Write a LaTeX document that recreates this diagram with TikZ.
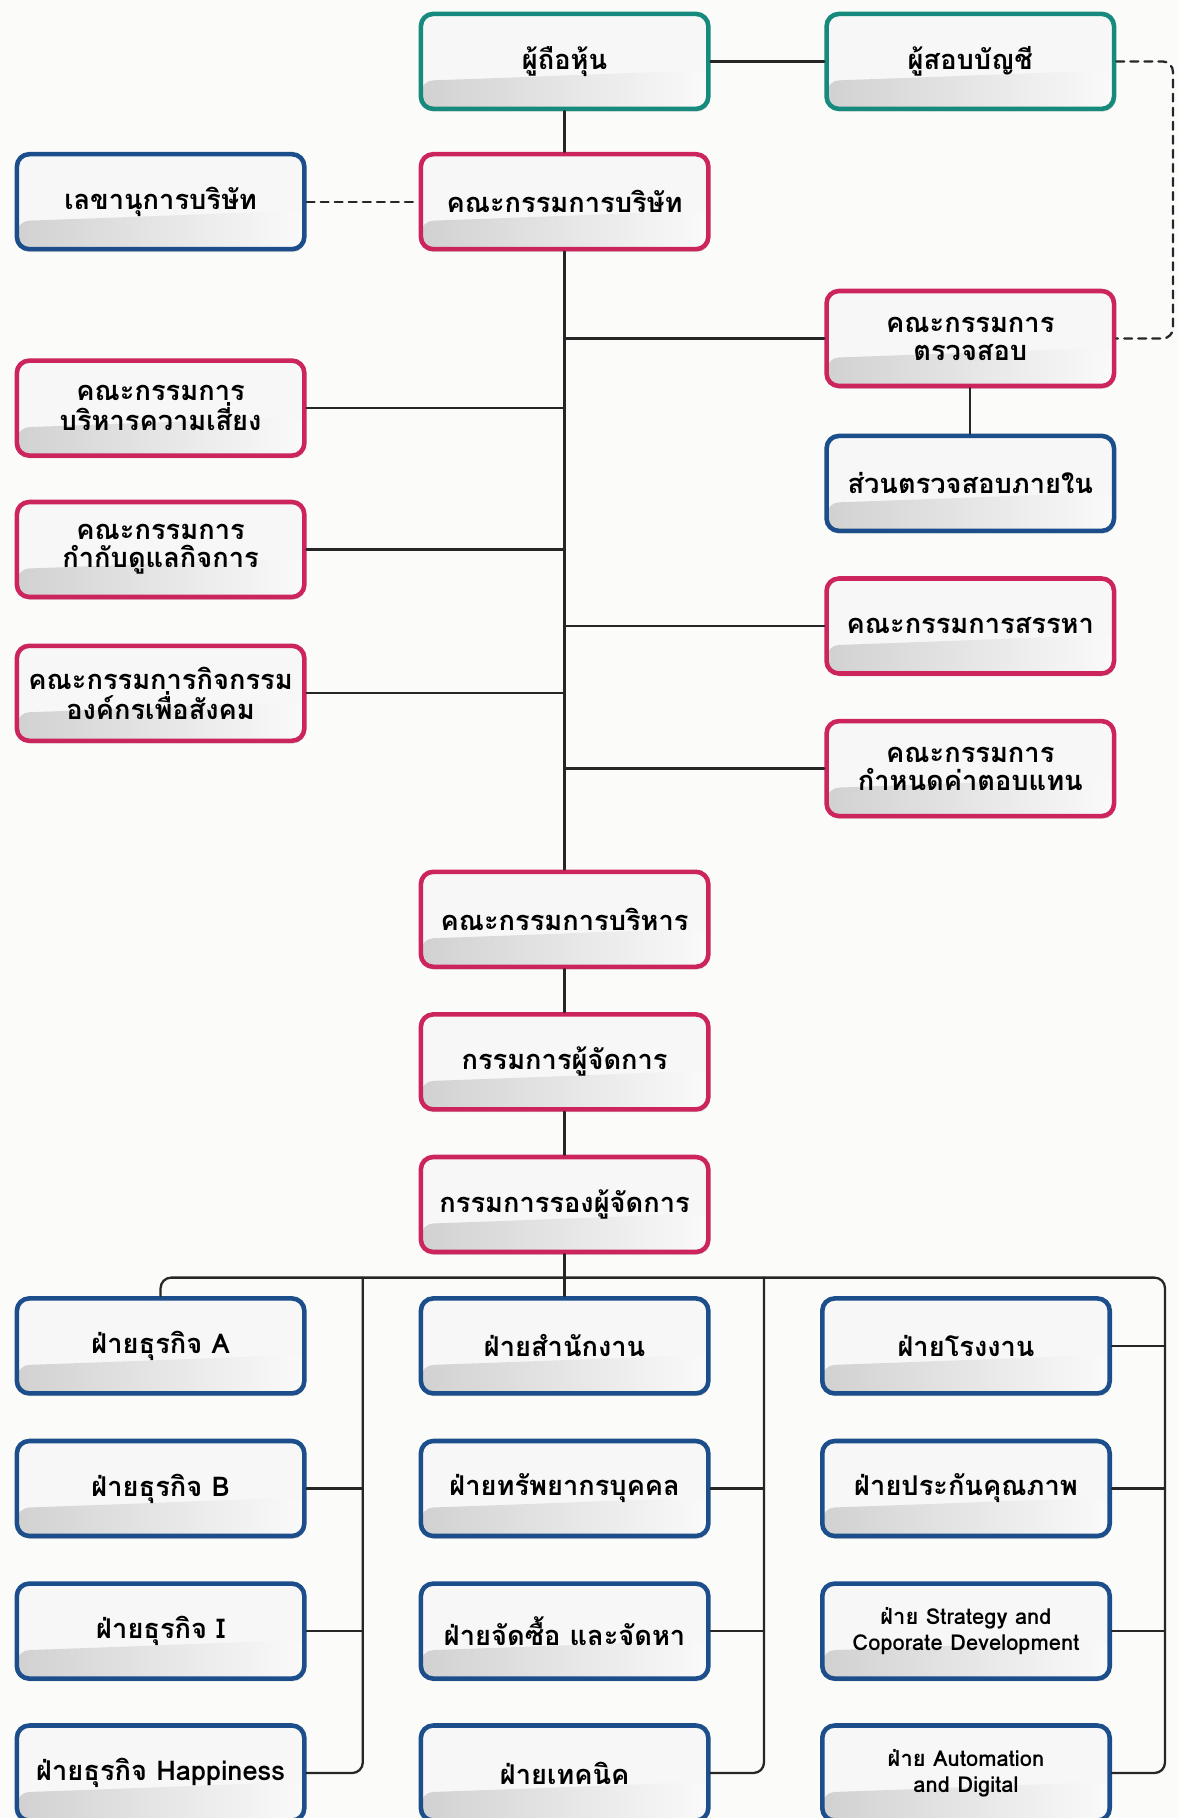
\documentclass[tikz,border=0pt]{standalone}
\usepackage{fontspec}
\newfontfamily\thaifont[Script=Thai]{Loma}
\usetikzlibrary{positioning, shadows}
\definecolor{orgteal}{RGB}{22, 138, 124}
\definecolor{orgred}{RGB}{204, 36, 92}
\definecolor{orgblue}{RGB}{28, 78, 140}
\definecolor{orgbg}{RGB}{251, 251, 249}

\begin{document}
\begin{tikzpicture}[x=0.02cm, y=-0.02cm, line cap=round, line join=round,
		orgbox/.style={draw, line width=2.6pt, rounded corners=7pt, fill=black!3,
			minimum width=5.75cm, minimum height=1.9cm, align=center,
			font=\thaifont\bfseries\fontsize{15.5}{16}\selectfont,
			drop shadow={shadow xshift=0.6pt, shadow yshift=-1.6pt, opacity=0.25},
			path picture={\shade[left color=black!18, right color=black!2]
				(path picture bounding box.south west) -- ++(0pt,16pt)
				.. controls +(3cm,3pt) and +(-2cm,-2pt) .. ([yshift=22pt]path picture bounding box.south east)
				-- (path picture bounding box.south east) -- cycle;}},
		chief/.style={orgbox, draw=orgteal},
		cmte/.style={orgbox, draw=orgred},
		dept/.style={orgbox, draw=orgblue},
		small/.style={font=\thaifont\bfseries\fontsize{12.5}{15}\selectfont},
		link/.style={line width=1.3pt, black!85},
		dotlink/.style={link, dash pattern=on 4.5pt off 3.5pt}]
			\useasboundingbox (0,0) rectangle (1179,1818);
			\fill[orgbg] (0,0) rectangle (1179,1818);

			% -- Shareholders and board --
			\node[chief] (sh) at (564.6,61.4) {ผู้ถือหุ้น};
			\node[chief] (aud) at (970.3,61.4) {ผู้สอบบัญชี};
			\node[dept] (sec) at (160.6,201.7) {เลขานุการบริษัท};
			\node[cmte] (bod) at (564.6,201.7) {คณะกรรมการบริษัท};

			% -- Committees --
			\node[cmte] (ac) at (970.3,338.5) {คณะกรรมการ\\ตรวจสอบ};
			\node[dept] (ia) at (970.3,483.4) {ส่วนตรวจสอบภายใน};
			\node[cmte] (nom) at (970.3,626.0) {คณะกรรมการสรรหา};
			\node[cmte] (rem) at (970.3,768.6) {คณะกรรมการ\\กำหนดค่าตอบแทน};
			\node[cmte] (risk) at (160.6,408.1) {คณะกรรมการ\\บริหารความเสี่ยง};
			\node[cmte] (gov) at (160.6,549.5) {คณะกรรมการ\\กำกับดูแลกิจการ};
			\node[cmte] (csr) at (160.6,693.3) {คณะกรรมการกิจกรรม\\องค์กรเพื่อสังคม};

			% -- Management --
			\node[cmte] (exc) at (564.6,919.3) {คณะกรรมการบริหาร};
			\node[cmte] (md) at (564.6,1061.9) {กรรมการผู้จัดการ};
			\node[cmte] (dmd) at (564.6,1204.5) {กรรมการรองผู้จัดการ};

			% -- Departments --
			\node[dept] (l1) at (160.6,1345.9) {ฝ่ายธุรกิจ A};
			\node[dept] (l2) at (160.6,1488.5) {ฝ่ายธุรกิจ B};
			\node[dept] (l3) at (160.6,1631.1) {ฝ่ายธุรกิจ I};
			\node[dept] (l4) at (160.6,1773) {ฝ่ายธุรกิจ Happiness};
			\node[dept] (m1) at (564.6,1345.9) {ฝ่ายสำนักงาน};
			\node[dept] (m2) at (564.6,1488.5) {ฝ่ายทรัพยากรบุคคล};
			\node[dept] (m3) at (564.6,1631.1) {ฝ่ายจัดซื้อ และจัดหา};
			\node[dept] (m4) at (564.6,1773) {ฝ่ายเทคนิค};
			\node[dept] (r1) at (966,1345.9) {ฝ่ายโรงงาน};
			\node[dept] (r2) at (966,1488.5) {ฝ่ายประกันคุณภาพ};
			\node[dept, small] (r3) at (966,1631.1) {ฝ่าย Strategy and\\Coporate Development};
			\node[dept, small] (r4) at (966,1773) {ฝ่าย Automation\\and Digital};

			% -- Lines above the bus --
			\draw[link] (sh.east) -- (aud.west);
			\draw[link] (sh.south) -- (bod.north);
			\draw[dotlink] (sec.east) -- (bod.west);
			\coordinate (audr) at (1173,61.4);
			\draw[dotlink, rounded corners=6pt] (aud.east) -- (audr) |- (ac.east);
			\draw[link] (bod.south) -- (exc.north);
			\foreach \b in {ac, nom, rem}
				\draw[link] (\b.west) -- (bod.south |- \b.west);
			\foreach \b in {risk, gov, csr}
				\draw[link] (\b.east) -- (bod.south |- \b.east);
			\draw[link] (ac.south) -- (ia.north);
			\draw[link] (exc.south) -- (md.north);
			\draw[link] (md.south) -- (dmd.north);

			% -- Bus to departments --
			\coordinate (lv) at (362.8,1277.6);
			\coordinate (mv) at (764,1277.6);
			\coordinate (rv) at (1165,1277.6);
			\draw[link] (dmd.south) -- (m1.north);
			\draw[link, rounded corners=6pt] (l1.north) |- (rv) |- (r4.east);
			\draw[link, rounded corners=6pt] (lv) |- (l4.east);
			\draw[link, rounded corners=6pt] (mv) |- (m4.east);
			\foreach \r in {2,3} {
				\draw[link] (l\r.east) -- (l\r.east -| lv);
				\draw[link] (m\r.east) -- (m\r.east -| mv);
			}
			\foreach \r in {1,2,3}
				\draw[link] (r\r.east) -- (r\r.east -| rv);
\end{tikzpicture}
\end{document}
